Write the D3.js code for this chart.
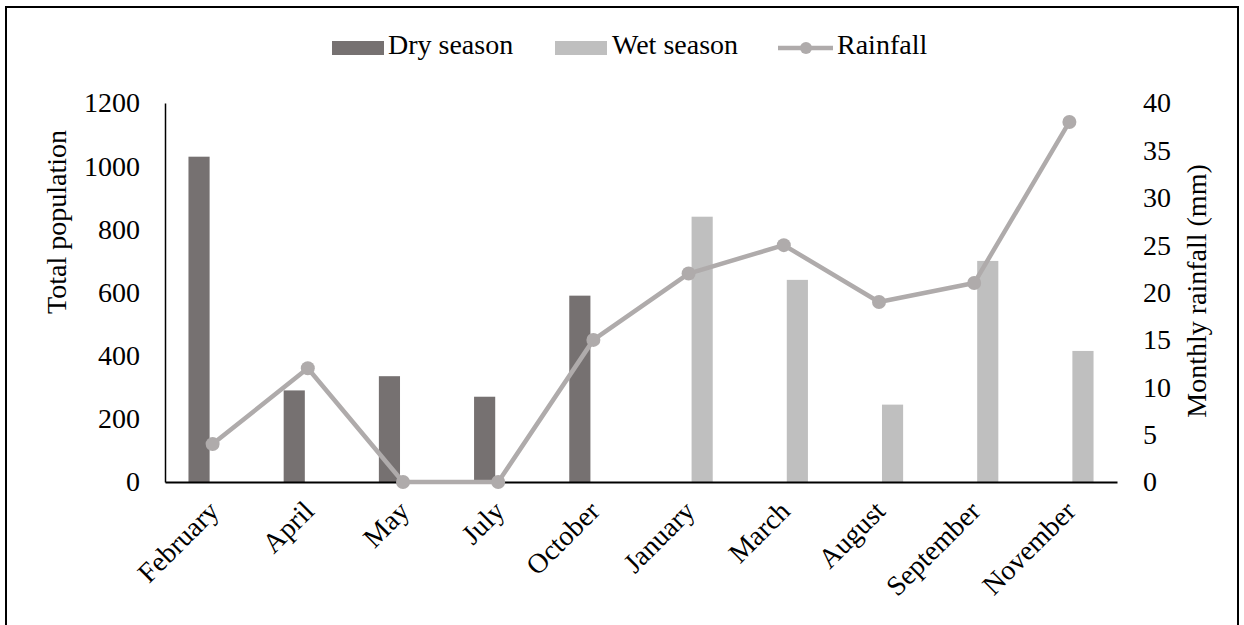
<!DOCTYPE html>
<html><head><meta charset="utf-8">
<script src="https://cdn.jsdelivr.net/npm/d3@7"></script>
<style>body{margin:0;background:#fff}</style>
</head><body>
<svg id="c" width="1244" height="625"></svg>
<script>
const months = ["February","April","May","July","October","January","March","August","September","November"];
const drySeason = [1030, 290, 335, 270, 590, null, null, null, null, null];
const wetSeason = [null, null, null, null, null, 840, 640, 245, 700, 415];
const rainfall = [4, 12, 0, 0, 15, 22, 25, 19, 21, 38];
const leftTicks = [0,200,400,600,800,1000,1200];
const rightTicks = [0,5,10,15,20,25,30,35,40];
const seriesNames = ["Dry season","Wet season","Rainfall"];

const FONT = "Liberation Serif";
const svg = d3.select("#c");
const FS = 28;
const m = {l:165, r:1117, t:103, b:482};
const dryC = "#767171", wetC = "#bfbfbf", lineC = "#afabab";

svg.append("rect").attr("x",6).attr("y",7).attr("width",1232).attr("height",640)
  .attr("fill","none").attr("stroke","#000").attr("stroke-width",2);

const x0 = d3.scaleBand().domain(months).range([m.l,m.r]).paddingInner(0.493).paddingOuter(0.2465);
const x1 = d3.scaleBand().domain(["dry","wet"]).range([0,x0.bandwidth()]).paddingInner(0.22);
const yL = d3.scaleLinear().domain([0,1200]).range([m.b,m.t]);
const yR = d3.scaleLinear().domain([0,40]).range([m.b,m.t]);
const cx = d => x0(d) + x0.bandwidth()/2;

const rows = months.map((mo,i)=>({mo, dry:drySeason[i], wet:wetSeason[i], rain:rainfall[i]}));
svg.append("g").selectAll("rect").data(rows.filter(d=>d.dry!=null)).join("rect")
  .attr("x",d=>x0(d.mo)+x1("dry")).attr("width",x1.bandwidth())
  .attr("y",d=>yL(d.dry)).attr("height",d=>m.b-yL(d.dry)).attr("fill",dryC);
svg.append("g").selectAll("rect").data(rows.filter(d=>d.wet!=null)).join("rect")
  .attr("x",d=>x0(d.mo)+x1("wet")).attr("width",x1.bandwidth())
  .attr("y",d=>yL(d.wet)).attr("height",d=>m.b-yL(d.wet)).attr("fill",wetC);

const gL = svg.append("g").attr("transform",`translate(${m.l},0)`)
  .call(d3.axisLeft(yL).tickValues(leftTicks).tickFormat(d3.format("d")).tickSize(0).tickPadding(25));
gL.attr("font-family",FONT).attr("font-size",FS);
gL.select(".domain").attr("stroke","#000").attr("stroke-width",1.5);
gL.selectAll("text").attr("font-size",FS).attr("font-family",FONT).attr("fill","#000");

const gR = svg.append("g").attr("transform",`translate(${m.r},0)`)
  .call(d3.axisRight(yR).tickValues(rightTicks).tickFormat(d3.format("d")).tickSize(0).tickPadding(26));
gR.attr("font-family",FONT).attr("font-size",FS);
gR.select(".domain").remove();
gR.selectAll("text").attr("font-size",FS).attr("font-family",FONT).attr("fill","#000");

const gB = svg.append("g").attr("transform",`translate(0,${m.b})`)
  .call(d3.axisBottom(x0).tickSize(0).tickFormat(()=>""));
gB.select(".domain").attr("stroke","#000").attr("stroke-width",2);

svg.append("g").selectAll("text").data(months).join("text")
  .attr("transform",d=>`translate(${cx(d)-6},${m.b+17}) rotate(-45)`)
  .attr("text-anchor","end").attr("dy","0.7em").attr("font-size",FS).attr("font-family",FONT).text(d=>d);

const line = d3.line().x(d=>cx(d.mo)).y(d=>yR(d.rain));
svg.append("path").datum(rows).attr("d",line).attr("fill","none")
  .attr("stroke",lineC).attr("stroke-width",4.5).attr("stroke-linejoin","round");
svg.append("g").selectAll("circle").data(rows).join("circle")
  .attr("cx",d=>cx(d.mo)).attr("cy",d=>yR(d.rain)).attr("r",7).attr("fill",lineC);

svg.append("text").attr("transform","translate(60,222) rotate(-90)")
  .attr("text-anchor","middle").attr("dominant-baseline","middle").attr("font-size",FS).attr("font-family",FONT).text("Total population");
svg.append("text").attr("transform","translate(1200,291) rotate(-90)")
  .attr("text-anchor","middle").attr("dominant-baseline","middle").attr("font-size",FS).attr("font-family",FONT).text("Monthly rainfall (mm)");

const lg = svg.append("g");
const ly = 48;
lg.append("rect").attr("x",332).attr("y",ly-7).attr("width",52).attr("height",14).attr("fill",dryC);
lg.append("text").attr("x",388).attr("y",ly).attr("dominant-baseline","middle").attr("font-size",FS).attr("font-family",FONT).text(seriesNames[0]);
lg.append("rect").attr("x",555).attr("y",ly-7).attr("width",52).attr("height",14).attr("fill",wetC);
lg.append("text").attr("x",612).attr("y",ly).attr("dominant-baseline","middle").attr("font-size",FS).attr("font-family",FONT).text(seriesNames[1]);
lg.append("line").attr("x1",778).attr("x2",833).attr("y1",ly).attr("y2",ly).attr("stroke",lineC).attr("stroke-width",4.5);
lg.append("circle").attr("cx",806).attr("cy",ly).attr("r",6).attr("fill",lineC);
lg.append("text").attr("x",837).attr("y",ly).attr("dominant-baseline","middle").attr("font-size",FS).attr("font-family",FONT).text(seriesNames[2]);
</script>
</body></html>
